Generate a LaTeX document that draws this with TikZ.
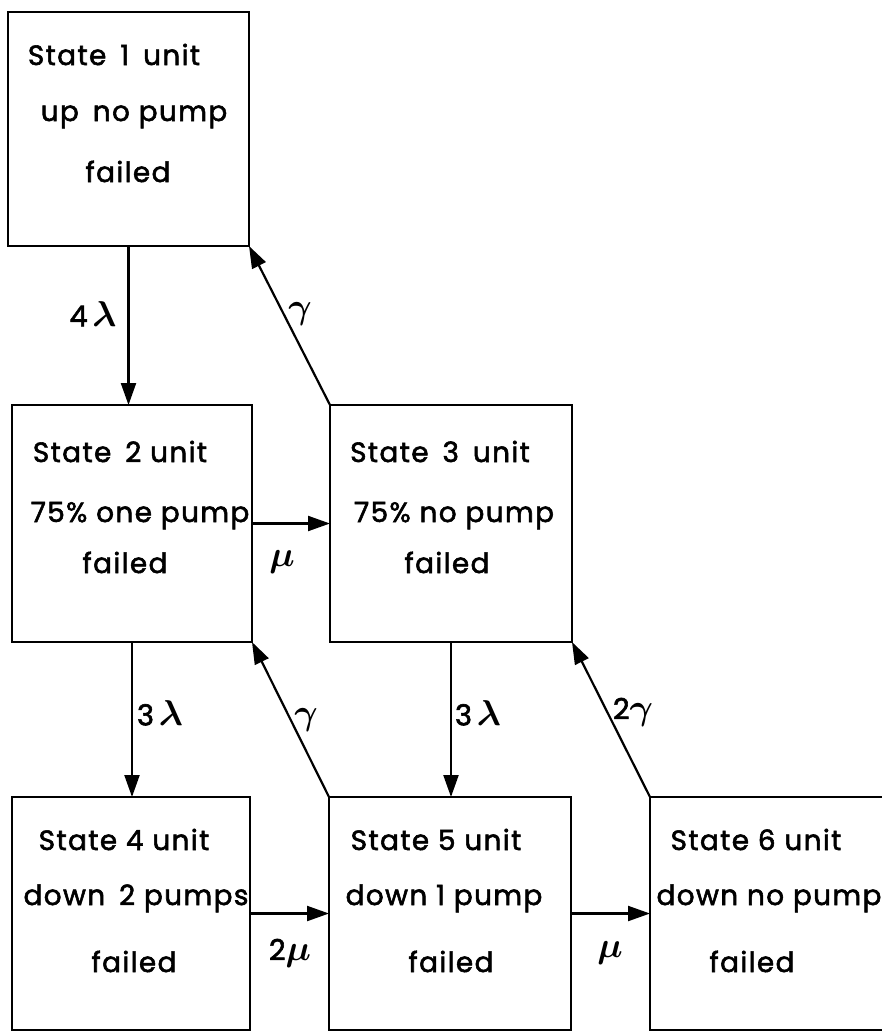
\RequirePackage{fix-cm}
\documentclass[tikz,border=0pt]{standalone}
\usepackage{fontspec}
\setmainfont{Poppins}[FakeBold=2, LetterSpace=5]
\usetikzlibrary{arrows.meta}
% Greek rate symbols, set a little larger than the digits
\newcommand\grk[1]{{\fontsize{36}{40}\selectfont\boldmath$#1$}}
\begin{document}
\begin{tikzpicture}[x=1bp,y=-1bp,
  statebox/.style={draw, line width=2.8bp, inner sep=0pt, outer sep=0pt},
  txt/.style={font=\fontsize{28}{32}\selectfont, inner sep=0pt, anchor=base},
  rate/.style={font=\fontsize{29}{32}\selectfont, inner sep=0pt},
  arr/.style={line width=2.2bp, -{Triangle[length=22bp,width=15bp]}}]
\useasboundingbox (0,0) rectangle (882,1032);

% state boxes
\node[statebox, minimum width=241bp, minimum height=234bp] (b1) at (128.5,129) {};
\node[statebox, minimum width=240bp, minimum height=237bp] (b2) at (132,523.5) {};
\node[statebox, minimum width=242bp, minimum height=237bp] (b3) at (451,523.5) {};
\node[statebox, minimum width=238bp, minimum height=233bp] (b4) at (131,913.5) {};
\node[statebox, minimum width=242bp, minimum height=233bp] (b5) at (450,913.5) {};
\node[statebox, minimum width=245bp, minimum height=233bp] (b6) at (772.5,913.5) {};

% box texts
\node[txt] (t1a) at (114,65) {State\enspace 1\enspace unit};
\node[txt] (t1b) at (134,121) {up\enspace no pump};
\node[txt] (t1c) at (128,182) {failed};

\node[txt] (t2a) at (120,462) {State\enspace 2 unit};
\node[txt] (t2b) at (140,522) {75\% one pump};
\node[txt] (t2c) at (125,573) {failed};

\node[txt] (t3a) at (440,462) {State\enspace 3\enspace unit};
\node[txt] (t3b) at (454,522) {75\% no pump};
\node[txt] (t3c) at (447,573) {failed};

\node[txt] (t4a) at (124,850) {State 4 unit};
\node[txt] (t4b) at (136,905) {down\enspace 2 pumps};
\node[txt] (t4c) at (134,972) {failed};

\node[txt] (t5a) at (436,850) {State 5 unit};
\node[txt] (t5b) at (444,905) {down 1 pump};
\node[txt] (t5c) at (451,972) {failed};

\node[txt] (t6a) at (756,850) {State 6 unit};
\node[txt] (t6b) at (769,905) {down no pump};
\node[txt] (t6c) at (752,972) {failed};

% transitions
\draw[arr] (b1.south) -- (b1.south |- b2.north);
\draw[arr] (b3.north west) -- (b1.south east);
\draw[arr] (b2.east) -- (b3.west);
\draw[arr] (b2.south) -- (b2.south |- b4.north);
\draw[arr] (b5.north west) -- (b2.south east);
\draw[arr] (b3.south) -- (b3.south |- b5.north);
\draw[arr] (b6.north west) -- (b3.south east);
\draw[arr] (b4.east) -- (b5.west);
\draw[arr] (b5.east) -- (b6.west);

% rate labels
\node[rate] (r1) at (93,314) {4\,\grk{\lambda}};
\node[rate] (r2) at (300,314) {\grk{\gamma}};
\node[rate] (r3) at (282,562) {\grk{\mu}};
\node[rate] (r4) at (160,713) {3\,\grk{\lambda}};
\node[rate] (r5) at (306,720) {\grk{\gamma}};
\node[rate] (r6) at (478,713) {3\,\grk{\lambda}};
\node[rate] (r7) at (633,712) {2\grk{\gamma}};
\node[rate] (r8) at (290,953) {2\grk{\mu}};
\node[rate] (r9) at (610,953) {\grk{\mu}};
\end{tikzpicture}
\end{document}
